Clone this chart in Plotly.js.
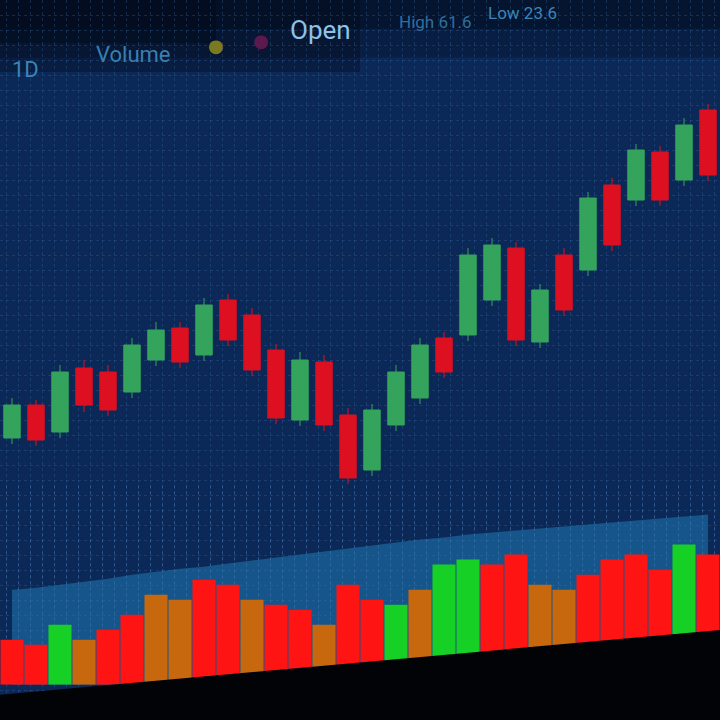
<!DOCTYPE html>
<html><head><meta charset="utf-8">
<script src="https://cdn.plot.ly/plotly-3.0.1.min.js"></script>
<style>html,body{margin:0;padding:0;background:#051530;}#chart{width:720px;height:720px;}</style>
</head><body><div id="chart"></div>
<script>
// Session index (periods)
const periods = [0,1,2,3,4,5,6,7,8,9,10,11,12,13,14,15,16,17,18,19,20,21,22,23,24,25,26,27,28,29];
// OHLC prices
const openP  = [28.2,31.5,28.8,35.2,34.8,32.8,36.0,39.2,36.5,42.0,40.5,37.0,30.0,35.8,30.5,25.0,29.5,32.2,38.2,38.5,42.0,47.2,37.8,46.5,45.0,53.5,52.0,56.8,54.0,61.0];
const closeP = [31.5,28.0,34.8,31.5,31.0,37.5,39.0,35.8,41.5,38.0,35.0,30.2,36.0,29.5,24.2,31.0,34.8,37.5,34.8,46.5,47.5,38.0,43.0,41.0,52.2,47.5,57.0,52.0,59.5,54.5];
const highP  = [32.2,32.0,35.5,36.0,35.5,38.2,39.8,39.8,42.2,42.6,41.2,37.6,36.8,36.5,31.2,31.6,35.5,38.2,38.8,47.2,48.2,47.8,43.6,47.2,52.8,54.2,57.6,57.4,60.2,61.6];
const lowP   = [27.6,27.4,28.2,30.8,30.4,32.2,35.4,35.2,35.9,37.4,34.4,29.6,29.4,28.9,23.6,24.4,28.9,31.6,34.2,37.9,41.4,37.4,37.2,40.4,44.4,46.9,51.4,51.4,53.4,53.9];
// Traded volume and side
const volume = [45,40,60,45,55,70,90,85,105,100,85,80,75,60,100,85,80,95,120,125,120,130,100,95,110,125,130,115,140,130];
const volumeSide = ['sell','sell','buy','mixed','sell','sell','mixed','mixed','sell','sell','mixed','sell','sell','mixed','sell','sell','buy','mixed','buy','buy','sell','sell','mixed','mixed','sell','sell','sell','sell','buy','sell'];
// Volume moving average (glow band)
const volumeMA = [95,97,100,103,106,110,113,116,118,121,124,127,130,133,136,139,142,145,147,150,152,154,156,158,160,162,164,166,168,170];
// Header labels
const headerLabels = ['1D','Volume','●','●','Open','High 61.6','Low 23.6'];

const palette = {buy:'#16d026', sell:'#ff1414', mixed:'#c8680e'};
const up = '#34a45c', down = '#dc1020';

const traces = [
  {type:'scatter', x:periods, y:volumeMA, xaxis:'x', yaxis:'y', mode:'lines',
   line:{color:'rgba(40,120,180,0)', width:0, shape:'spline'}, fill:'tozeroy',
   fillcolor:'rgba(26,100,155,0.75)', hoverinfo:'skip', showlegend:false},
  {type:'candlestick', x:periods, open:openP, high:highP, low:lowP, close:closeP, xaxis:'x', yaxis:'y2',
   increasing:{line:{color:up, width:1}, fillcolor:up},
   decreasing:{line:{color:down, width:1}, fillcolor:down},
   whiskerwidth:0, showlegend:false},
  {type:'bar', x:periods, y:volume, xaxis:'x', yaxis:'y3',
   marker:{color:volumeSide.map(s=>palette[s]), line:{width:0}}, width:0.96, showlegend:false}
];

const bandDark = '#020a18';
const grid = 'rgba(70,120,180,0.28)';
function hdr(i, x, y, size, color, family){
  return {text:headerLabels[i], x:x, y:y, xref:'paper', yref:'paper', xanchor:'center', yanchor:'middle',
          showarrow:false, font:{family:family||'Roboto', size:size, color:color}};
}
const layout = {
  width:720, height:720, margin:{l:0,r:0,t:0,b:0},
  paper_bgcolor:'#0b2856', plot_bgcolor:'rgba(0,0,0,0)',
  showlegend:false, boxgap:0.02, bargap:0.04,
  xaxis:{range:[-0.5,29.5], showticklabels:false, zeroline:false, rangeslider:{visible:false},
         showgrid:true, gridcolor:grid, griddash:'dot', dtick:0.5, tick0:0.25},
  yaxis:{range:[0,200], domain:[0.049,0.327], showticklabels:false, showgrid:false, zeroline:false},
  yaxis2:{range:[0,72], domain:[0,1], showticklabels:false, zeroline:false, anchor:'x',
          showgrid:true, gridcolor:grid, griddash:'dot', dtick:1.5},
  yaxis3:{range:[0,200], domain:[0.049,0.327], showticklabels:false, showgrid:false, zeroline:false, anchor:'x'},
  shapes:[
    {type:'rect', xref:'paper', yref:'paper', x0:0, x1:1, y0:0.96, y1:1, fillcolor:bandDark, opacity:0.45, line:{width:0}, layer:'below'},
    {type:'rect', xref:'paper', yref:'paper', x0:0, x1:1, y0:0.92, y1:1, fillcolor:bandDark, opacity:0.3, line:{width:0}, layer:'below'},
    {type:'rect', xref:'paper', yref:'paper', x0:0, x1:0.5, y0:0.90, y1:1, fillcolor:bandDark, opacity:0.35, line:{width:0}, layer:'below'},
    {type:'rect', xref:'paper', yref:'paper', x0:0, x1:0.3, y0:0.94, y1:1, fillcolor:bandDark, opacity:0.5, line:{width:0}, layer:'below'},
    {type:'path', xref:'paper', yref:'paper', path:'M0,0.035 L1,0.125 L1,0 L0,0 Z', fillcolor:'#010306', line:{width:0}, layer:'above'}
  ],
  annotations:[
    hdr(0, 0.036, 0.903, 22, '#3b86b8'),
    hdr(1, 0.185, 0.924, 22, '#3a7fb0'),
    hdr(2, 0.300, 0.9375, 18, '#7a7a20', 'DejaVu Sans'),
    hdr(3, 0.362, 0.944, 18, '#5a1a50', 'DejaVu Sans'),
    hdr(4, 0.445, 0.958, 26, '#8ec2e6'),
    hdr(5, 0.605, 0.970, 17, '#2f6f9f'),
    hdr(6, 0.725, 0.982, 17, '#3a86b8')
  ]
};
Plotly.newPlot('chart', traces, layout, {displayModeBar:false, staticPlot:true});
</script></body></html>
